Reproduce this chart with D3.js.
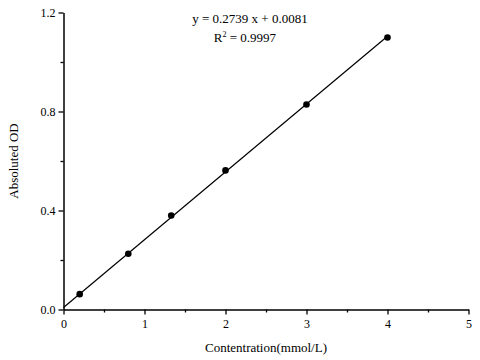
<!DOCTYPE html>
<html><head><meta charset="utf-8">
<script src="https://cdn.jsdelivr.net/npm/d3@7"></script>
<style>body{margin:0;background:#fff}svg{display:block}text{font-family:"Liberation Serif","Times New Roman",serif;fill:#000}</style>
</head><body><svg id="c" width="480" height="360"></svg>
<script>
const concentrations = [0.2, 0.8, 1.33, 2, 3, 4];
const absorbance = [0.062, 0.225, 0.38, 0.562, 0.828, 1.099];
const slope = 0.2739, intercept = 0.0081;
const xTicks = [0, 1, 2, 3, 4, 5];
const yTicks = [0.0, 0.4, 0.8, 1.2];
const xMinor = [0.5, 1.5, 2.5, 3.5, 4.5];
const yMinor = [0.2, 0.6, 1.0];

const svg = d3.select("#c");
const x = d3.scaleLinear().domain([0, 5]).range([63.5, 468.5]);
const y = d3.scaleLinear().domain([0, 1.2]).range([309.5, 12.5]);

// minor ticks
const gxm = svg.append("g").attr("transform", "translate(0,309.5)")
  .call(d3.axisBottom(x).tickValues(xMinor).tickSize(3).tickFormat(""));
const gym = svg.append("g").attr("transform", "translate(63.5,0)")
  .call(d3.axisLeft(y).tickValues(yMinor).tickSize(3).tickFormat(""));
[gxm, gym].forEach(g => { g.select(".domain").remove(); g.selectAll("line").attr("stroke", "#000").attr("stroke-width", 1.3); });

const gx = svg.append("g").attr("transform", "translate(0,309.5)")
  .call(d3.axisBottom(x).tickValues(xTicks).tickSize(5).tickSizeOuter(0).tickPadding(5).tickFormat(d3.format("d")));
const gy = svg.append("g").attr("transform", "translate(63.5,0)")
  .call(d3.axisLeft(y).tickValues(yTicks).tickSize(5).tickSizeOuter(0).tickPadding(3).tickFormat(d3.format(".1f")));
[gx, gy].forEach(g => {
  g.select(".domain").attr("stroke", "#000").attr("stroke-width", 1.5);
  g.selectAll("line").attr("stroke", "#000").attr("stroke-width", 1.3);
  g.selectAll("text").style("font-family", '"Liberation Serif", serif').style("font-size", "12px").attr("fill", "#000");
});

// fit line
svg.append("line")
  .attr("x1", x(0)).attr("y1", y(intercept))
  .attr("x2", x(4)).attr("y2", y(slope * 4 + intercept))
  .attr("stroke", "#000").attr("stroke-width", 1.2);

// points
svg.selectAll("circle.pt").data(concentrations).join("circle")
  .attr("class", "pt")
  .attr("cx", d => x(d)).attr("cy", (d, i) => y(absorbance[i]))
  .attr("r", 3.3).attr("fill", "#000");

// equation
svg.append("text").attr("x", 250).attr("y", 23).attr("text-anchor", "middle")
  .style("font-size", "13px").text("y = 0.2739 x + 0.0081");
const r2 = svg.append("text").attr("x", 245).attr("y", 42).attr("text-anchor", "middle").style("font-size", "13px");
r2.append("tspan").text("R");
r2.append("tspan").attr("dy", -5).style("font-size", "8px").text("2");
r2.append("tspan").attr("dy", 5).text(" = 0.9997");

// axis titles
svg.append("text").attr("x", 266).attr("y", 352).attr("text-anchor", "middle")
  .style("font-size", "13px").text("Contentration(mmol/L)");
svg.append("text").attr("transform", "translate(18,161) rotate(-90)").attr("text-anchor", "middle")
  .style("font-size", "13px").text("Absoluted OD");
</script></body></html>
